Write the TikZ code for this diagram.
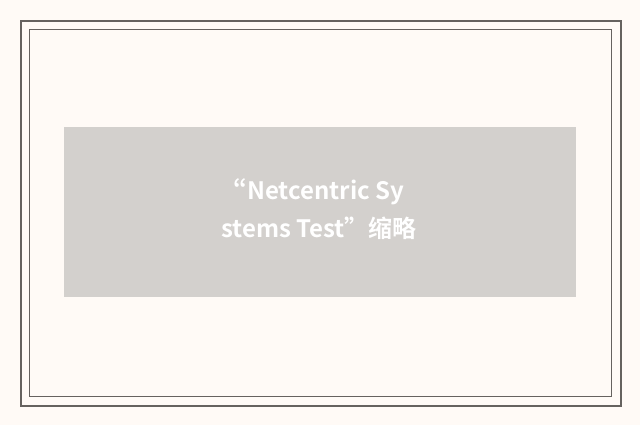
\documentclass[tikz,border=0pt]{standalone}
\usepackage{fontspec}
\newfontfamily\cjk{Noto Sans CJK SC}[BoldFont={* Bold}]
\newfontfamily\cjkp{Noto Sans CJK SC}[BoldFont={* Bold},RawFeature=+pwid]
\usepackage{tikz}
\usetikzlibrary{positioning}
\definecolor{paper}{HTML}{FFFAF6}
\definecolor{frame}{HTML}{66625F}
\definecolor{thumb}{HTML}{D3D0CD}

\begin{document}
\begin{tikzpicture}[x=1pt,y=-1pt,semithick]
\tikzstyle{every node}=[inner sep=0pt,outer sep=0pt]
\tikzstyle{title}=[text=white,font=\cjk\bfseries\fontsize{24}{38}\selectfont,align=center]
\fill[paper] (0,0) rectangle (640,425);
\useasboundingbox (0,0) rectangle (640,425);
\draw[frame,line width=2pt] (21,21) rectangle (621,406);
\draw[frame,line width=1pt] (29.5,29.5) rectangle (611.5,396.5);
\node[fill=thumb,minimum width=512pt,minimum height=170pt] (T) at (320,212) {};
\node[title,anchor=base] (L) at (319,237) {{\cjkp\bfseries “}Netcentric Sy\\stems Test”缩略};
\end{tikzpicture}
\end{document}
